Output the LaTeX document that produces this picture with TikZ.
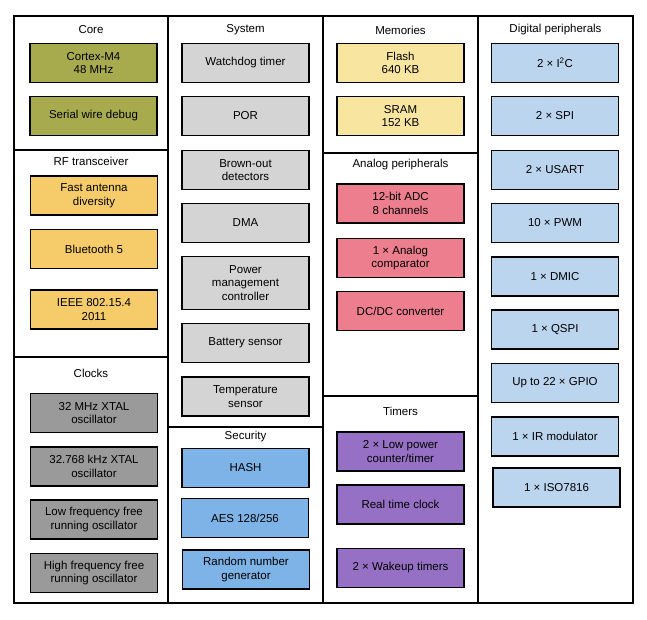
\documentclass[tikz,border=0pt]{standalone}
\usepackage{fontspec}
\setmainfont{Liberation Sans}
\usetikzlibrary{positioning}
\definecolor{corec}{HTML}{A8AA4E}
\definecolor{rfc}{HTML}{F6CC6A}
\definecolor{clkc}{HTML}{9A9A9A}
\definecolor{sysc}{HTML}{D4D4D4}
\definecolor{secc}{HTML}{7DB3E6}
\definecolor{memc}{HTML}{F8E6A0}
\definecolor{anac}{HTML}{EC7E8E}
\definecolor{timc}{HTML}{9670C4}
\definecolor{digc}{HTML}{BCD5EE}
\begin{document}
\begin{tikzpicture}[x=1pt,y=-1pt,blk/.style={draw,line width=1.6pt,minimum width=127pt,minimum height=39pt,align=center,inner sep=1pt,font=\fontsize{11.5}{13.5}\selectfont},ttl/.style={font=\fontsize{11.5}{13.5}\selectfont},sec/.style={draw,line width=1.4pt}]
                      \useasboundingbox (0,0) rectangle (647,620);
                      \draw[sec] (14,16) rectangle (168,150);
                      \draw[sec] (14,150) rectangle (168,357);
                      \draw[sec] (14,357) rectangle (168,603);
                      \draw[sec] (168,16) rectangle (323,427);
                      \draw[sec] (168,427) rectangle (323,603);
                      \draw[sec] (323,16) rectangle (478,153);
                      \draw[sec] (323,153) rectangle (478,396);
                      \draw[sec] (323,396) rectangle (478,603);
                      \draw[sec] (478,16) rectangle (633,603);

                      \node[ttl] (tcore) at (91,30) {Core};
                      \node[blk,fill=corec] (core1) at (93.5,63) {Cortex-M4\\48 MHz};
                      \node[blk,fill=corec] (core2) at (93.5,116) {Serial wire debug};

                      \node[ttl] (trf) at (91,161) {RF transceiver};
                      \node[blk,fill=rfc] (rf1) at (94,195.5) {Fast antenna\\diversity};
                      \node[blk,fill=rfc] (rf2) at (94,249) {Bluetooth 5};
                      \node[blk,fill=rfc] (rf3) at (94,309.5) {IEEE 802.15.4\\2011};

                      \node[ttl] (tclk) at (91,373) {Clocks};
                      \node[blk,fill=clkc] (clk1) at (94,413) {32 MHz XTAL\\oscillator};
                      \node[blk,fill=clkc] (clk2) at (94,466.5) {32.768 kHz XTAL\\oscillator};
                      \node[blk,fill=clkc] (clk3) at (94,519.5) {Low frequency free\\running oscillator};
                      \node[blk,fill=clkc] (clk4) at (94,573) {High frequency free\\running oscillator};

                      \node[ttl] (tsys) at (245.5,30) {System};
                      \node[blk,fill=sysc] (sys1) at (245.5,63) {Watchdog timer};
                      \node[blk,fill=sysc] (sys2) at (245.5,116) {POR};
                      \node[blk,fill=sysc] (sys3) at (245.5,170) {Brown-out\\detectors};
                      \node[blk,fill=sysc] (sys4) at (245.5,223) {DMA};
                      \node[blk,fill=sysc,minimum height=53pt] (sys5) at (245.5,283) {Power\\management\\controller};
                      \node[blk,fill=sysc] (sys6) at (245.5,343) {Battery sensor};
                      \node[blk,fill=sysc] (sys7) at (245.5,396.5) {Temperature\\sensor};

                      \node[ttl] (tsec) at (245.5,437) {Security};
                      \node[blk,fill=secc] (sec1) at (245.5,468) {HASH};
                      \node[blk,fill=secc] (sec2) at (245,518) {AES 128/256};
                      \node[blk,fill=secc] (sec3) at (246,569.5) {Random number\\generator};

                      \node[ttl] (tmem) at (400.5,30) {Memories};
                      \node[blk,fill=memc] (mem1) at (400.5,63) {Flash\\640 KB};
                      \node[blk,fill=memc] (mem2) at (400.5,116) {SRAM\\152 KB};

                      \node[ttl] (tana) at (400.5,165) {Analog peripherals};
                      \node[blk,fill=anac] (ana1) at (400.5,203.5) {12-bit ADC\\8 channels};
                      \node[blk,fill=anac] (ana2) at (400.5,258) {1 × Analog\\comparator};
                      \node[blk,fill=anac] (ana3) at (400.5,311) {DC/DC converter};

                      \node[ttl] (ttim) at (400.5,411) {Timers};
                      \node[blk,fill=timc] (tim1) at (400.5,451.5) {2 × Low power\\counter/timer};
                      \node[blk,fill=timc] (tim2) at (400.5,504.5) {Real time clock};
                      \node[blk,fill=timc] (tim3) at (400.5,568) {2 × Wakeup timers};

                      \node[ttl] (tdig) at (555.5,30) {Digital peripherals};
                      \node[blk,fill=digc] (dig1) at (555,63) {2 × I\textsuperscript{2}C};
                      \node[blk,fill=digc] (dig2) at (555,116) {2 × SPI};
                      \node[blk,fill=digc] (dig3) at (555,170) {2 × USART};
                      \node[blk,fill=digc] (dig4) at (555,223) {10 × PWM};
                      \node[blk,fill=digc] (dig5) at (555,276.5) {1 × DMIC};
                      \node[blk,fill=digc] (dig6) at (555,329.5) {1 × QSPI};
                      \node[blk,fill=digc] (dig7) at (555,383) {Up to 22 × GPIO};
                      \node[blk,fill=digc] (dig8) at (555,436.5) {1 × IR modulator};
                      \node[blk,fill=digc] (dig9) at (556.5,487.5) {1 × ISO7816};
                    \end{tikzpicture}
\end{document}
